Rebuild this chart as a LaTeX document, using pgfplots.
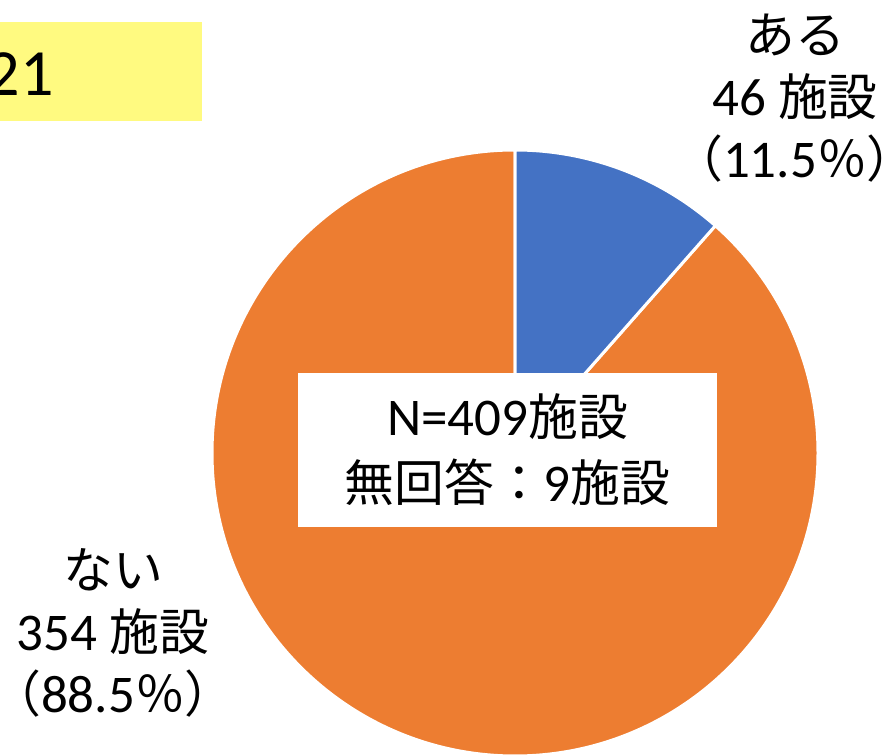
\documentclass[border=0pt]{standalone}
\usepackage{fontspec}
\setmainfont{Carlito}
\newfontfamily\jp[Scale=0.94]{Noto Sans CJK JP}
\usepackage{pgfplots}
\usepackage{pgfplotstable}
\pgfplotsset{compat=1.18}
\definecolor{pieblue}{HTML}{4472C4}
\definecolor{pieorange}{HTML}{ED7D31}
\definecolor{boxyellow}{HTML}{FFFA80}

% facilities answering "yes" / "no"
\pgfplotstableread{
label value
aru 46
nai 354
}\facilities

\begin{document}
\begin{tikzpicture}
\pgfplotstablegetelem{0}{value}\of\facilities \let\vA\pgfplotsretval
\pgfplotstablegetelem{1}{value}\of\facilities \let\vB\pgfplotsretval
\pgfmathsetmacro\total{\vA+\vB}
\pgfmathsetmacro\angA{360*(\vA/\total)}
\pgfmathsetmacro\endA{90-\angA}
\pgfmathsetmacro\endB{450-\angA}
\begin{axis}[x=0.5pt, y=0.5pt, xmin=0, xmax=894, ymin=0, ymax=755,
  hide axis, clip=false]
  % year tag
  \fill[boxyellow] (axis cs:0,634) rectangle (axis cs:202,733);
  \node[anchor=east, font=\fontsize{33}{36}\selectfont, inner sep=0pt] at (axis cs:54,681) {21};
  % pie slices
  \filldraw[fill=pieorange, draw=white, line width=1.5pt]
    (axis cs:515,302) -- (axis cs:515,605)
    arc[start angle=90, end angle=\endB, radius=151.5pt] -- cycle;
  \filldraw[fill=pieblue, draw=white, line width=1.5pt]
    (axis cs:515,302) -- (axis cs:515,605)
    arc[start angle=90, end angle=\endA, radius=151.5pt] -- cycle;
  % slice labels
  \node[align=center, font=\fontsize{26.5}{31}\selectfont] at (axis cs:795,657)
    {{\jp ある}\\46 {\jp 施設}\\{\jp （}11.5{\jp ％）}};
  \node[align=center, font=\fontsize{26.5}{31}\selectfont] at (axis cs:113,122)
    {{\jp ない}\\354 {\jp 施設}\\{\jp （}88.5{\jp ％）}};
  % sample size box
  \node[fill=white, minimum width=209.5pt, minimum height=77pt, align=center,
        font=\fontsize{26.5}{33}\selectfont] at (axis cs:507.5,305)
    {N=409{\jp 施設}\\{\jp 無回答：}9{\jp 施設}};
\end{axis}
\pgfresetboundingbox
\useasboundingbox (current axis.south west) rectangle (current axis.north east);
\end{tikzpicture}
\end{document}
